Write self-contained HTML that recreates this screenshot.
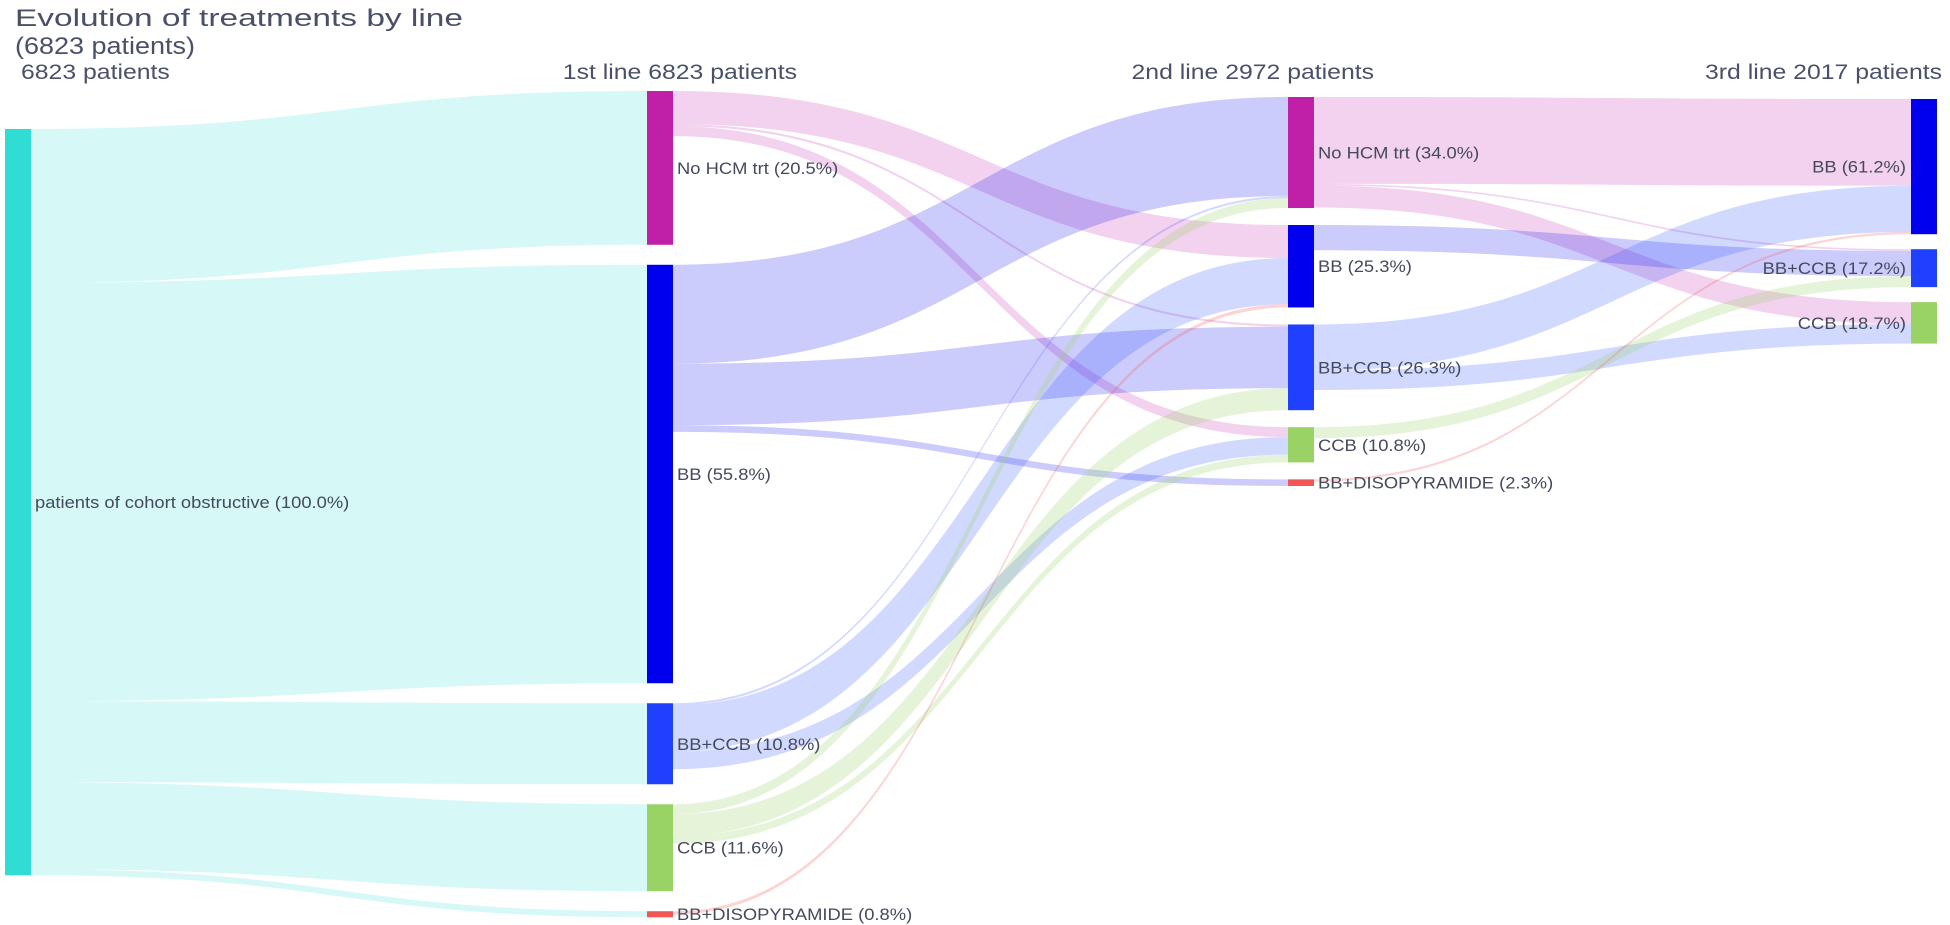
<!DOCTYPE html>
<html><head><meta charset="utf-8"><style>
html,body{margin:0;padding:0;background:#fff}
svg{display:block;font-family:"Liberation Sans","DejaVu Sans",sans-serif}
</style></head><body>
<svg id="chart" width="1950" height="925" viewBox="0 0 1950 925" xmlns="http://www.w3.org/2000/svg">
<text x="15" y="26" font-size="24" fill="#4a5068" textLength="448" lengthAdjust="spacingAndGlyphs">Evolution of treatments by line</text>
<text x="15" y="54" font-size="24" fill="#4a5068" textLength="180" lengthAdjust="spacingAndGlyphs">(6823 patients)</text>
<g id="links"></g>
<g id="nodes"></g>
<g id="headers"></g>
</svg>
<script>
// ---- data ----
const nodeNames = ["patients of cohort obstructive","No HCM trt","BB","BB+CCB","CCB","BB+DISOPYRAMIDE","No HCM trt","BB","BB+CCB","CCB","BB+DISOPYRAMIDE","BB","BB+CCB","CCB"];
const nodeColumn = [0,1,1,1,1,1,2,2,2,2,2,3,3,3];
const nodePercent = ["100.0%","20.5%","55.8%","10.8%","11.6%","0.8%","34.0%","25.3%","26.3%","10.8%","2.3%","61.2%","17.2%","18.7%"];
const linkSource = [0,0,0,0,0, 1,1,1, 2,2,2, 3,3,3, 4,4,4, 5, 6,6,6, 7, 8,8, 9, 10];
const linkTarget = [1,2,3,4,5, 7,8,9, 6,8,10, 6,7,9, 6,8,9, 7, 11,12,13, 12, 11,13, 12, 11];
const linkValue  = [1399,3807,737,791,55, 300,20,90, 900,560,60, 20,420,160, 90,200,70, 30, 790,15,200, 230, 420,177, 100, 20];
const columnHeaders = ["6823 patients","1st line 6823 patients","2nd line 2972 patients","3rd line 2017 patients"];

// ---- layout ----
const colX = [5,647,1288,1911], nodeW = 26;
const colTop = [129,91,97,99], colGap = [20,20,17,15];
const k = 750/6823;
const nodeColor = ["#30ddd5","#c01fa8","#0000ee","#2040ff","#99d366","#f25555","#c01fa8","#0000ee","#2040ff","#99d366","#f25555","#0000ee","#2040ff","#99d366"];
const srcLinkColor = ["rgba(48,221,213,0.2)","rgba(192,31,168,0.2)","rgba(0,0,238,0.2)","rgba(32,64,255,0.2)","rgba(153,211,102,0.25)","rgba(242,85,85,0.25)","rgba(192,31,168,0.2)","rgba(0,0,238,0.2)","rgba(32,64,255,0.2)","rgba(153,211,102,0.25)","rgba(242,85,85,0.25)"];
const ns="http://www.w3.org/2000/svg";
const n = nodeNames.length;
const val = new Array(n).fill(0);
for(let i=0;i<n;i++){
  let inV=0,outV=0;
  linkSource.forEach((s,j)=>{ if(s===i) outV+=linkValue[j]; if(linkTarget[j]===i) inV+=linkValue[j]; });
  val[i]=Math.max(inV,outV);
}
const ny=[], nh=[];
const cursor = colTop.slice();
for(let i=0;i<n;i++){
  const c=nodeColumn[i];
  nh[i]=Math.max(2,val[i]*k);
  ny[i]=cursor[c];
  cursor[c]+=nh[i]+colGap[c];
}
const outOff=ny.slice(), inOff=ny.slice();
const order=linkValue.map((v,i)=>i);
const bySrc=order.slice().sort((a,b)=>linkSource[a]-linkSource[b]||linkTarget[a]-linkTarget[b]);
const byTgt=order.slice().sort((a,b)=>linkTarget[a]-linkTarget[b]||linkSource[a]-linkSource[b]);
const ly0=[], ly1=[];
bySrc.forEach(j=>{ly0[j]=outOff[linkSource[j]]; outOff[linkSource[j]]+=linkValue[j]*k;});
byTgt.forEach(j=>{ly1[j]=inOff[linkTarget[j]]; inOff[linkTarget[j]]+=linkValue[j]*k;});
const gL=document.getElementById('links');
linkValue.forEach((v,j)=>{
  const s=linkSource[j], t=linkTarget[j], w=v*k;
  const x0=colX[nodeColumn[s]]+nodeW, x1=colX[nodeColumn[t]], xm=(x0+x1)/2;
  const a=ly0[j], b=ly1[j];
  const d=`M${x0},${a}C${xm},${a} ${xm},${b} ${x1},${b}L${x1},${b+w}C${xm},${b+w} ${xm},${a+w} ${x0},${a+w}Z`;
  const p=document.createElementNS(ns,'path');
  p.setAttribute('d',d);
  p.setAttribute('fill',srcLinkColor[s]);
  
  
  gL.appendChild(p);
});
function stretch(t,f){ const L=t.getComputedTextLength(); t.setAttribute('textLength',(L*f).toFixed(1)); t.setAttribute('lengthAdjust','spacingAndGlyphs'); }
const gN=document.getElementById('nodes');
for(let i=0;i<n;i++){
  const c=nodeColumn[i];
  const r=document.createElementNS(ns,'rect');
  r.setAttribute('x',colX[c]); r.setAttribute('y',ny[i]);
  r.setAttribute('width',nodeW); r.setAttribute('height',nh[i]);
  r.setAttribute('fill',nodeColor[i]);
  
  
  gN.appendChild(r);
  const tx=document.createElementNS(ns,'text');
  const right = c===3;
  tx.setAttribute('x', right? colX[c]-5 : colX[c]+nodeW+4);
  tx.setAttribute('y', ny[i]+nh[i]/2+6);
  tx.setAttribute('font-size','17');
  tx.setAttribute('fill','#444a5c');
  if(right) tx.setAttribute('text-anchor','end');
  tx.textContent=nodeNames[i]+' ('+nodePercent[i]+')';
  
  
  gN.appendChild(tx);
  stretch(tx,1.08);
}
const gH=document.getElementById('headers');
const hx=[21,797,1374,1942], anchors=['start','end','end','end'];
columnHeaders.forEach((h,i)=>{
  const t=document.createElementNS(ns,'text');
  t.setAttribute('x',hx[i]); t.setAttribute('y',79);
  t.setAttribute('font-size','21');
  t.setAttribute('fill','#4a5068');
  t.setAttribute('text-anchor',anchors[i]);
  t.textContent=h;
  
  
  gH.appendChild(t);
  stretch(t,1.18);
});
</script>
</body></html>
